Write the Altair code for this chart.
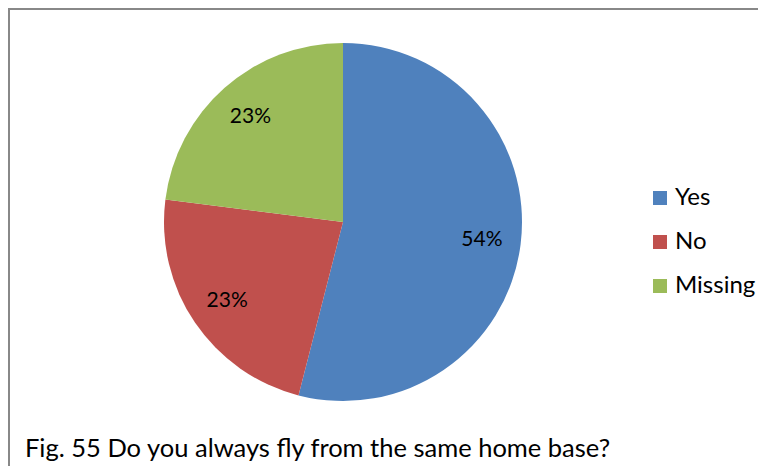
import altair as alt
import pandas as pd

categories = ["Yes", "No", "Missing"]
values = [54, 23, 23]
labels = ["54%", "23%", "23%"]
colors = ["#4F81BD", "#C0504D", "#9BBB59"]
caption = "Fig. 55 Do you always fly from the same home base?"

df = pd.DataFrame({"answer": categories, "value": values, "label": labels,
                   "order": list(range(len(categories)))})

W, H = 750, 458
CX, CY = 335, 214
FONT = "Lato"

base = alt.Chart(df).encode(
    theta=alt.Theta("value:Q", stack=True),
    order=alt.Order("order:Q"),
)

pie = base.mark_arc(outerRadius=179, stroke=None).encode(
    x=alt.value(CX), y=alt.value(CY),
    color=alt.Color("answer:N",
                    scale=alt.Scale(domain=categories, range=colors),
                    sort=categories,
                    legend=alt.Legend(title=None, orient="none", legendX=640, legendY=178,
                                      symbolType="square", symbolSize=196,
                                      symbolStrokeWidth=0,
                                      labelFont=FONT, labelFontSize=24,
                                      labelColor="#000000", rowPadding=20,
                                      labelOffset=3)),
)

text = base.mark_text(radius=140, font=FONT, fontSize=21, color="#000000").encode(
    x=alt.value(CX), y=alt.value(CY),
    text="label:N",
)

frame = pd.DataFrame({"a": [0]})
top_rule = alt.Chart(frame).mark_rule(color="#888888", strokeWidth=2).encode(
    x=alt.value(0), x2=alt.value(W + 8), y=alt.value(1))
left_rule = alt.Chart(frame).mark_rule(color="#888888", strokeWidth=2).encode(
    x=alt.value(1), y=alt.value(0), y2=alt.value(H + 8))

cap = alt.Chart(pd.DataFrame({"t": [caption]})).mark_text(
    align="left", baseline="alphabetic", font=FONT, fontSize=25.5, color="#000000"
).encode(x=alt.value(17), y=alt.value(449), text="t:N")

chart = alt.layer(top_rule, left_rule, pie, text, cap).properties(
    width=W, height=H,
    autosize=alt.AutoSizeParams(type="none"),
    padding=0,
).configure_view(stroke=None)

chart.save("out.html", embed_options={"renderer": "svg", "actions": False})
